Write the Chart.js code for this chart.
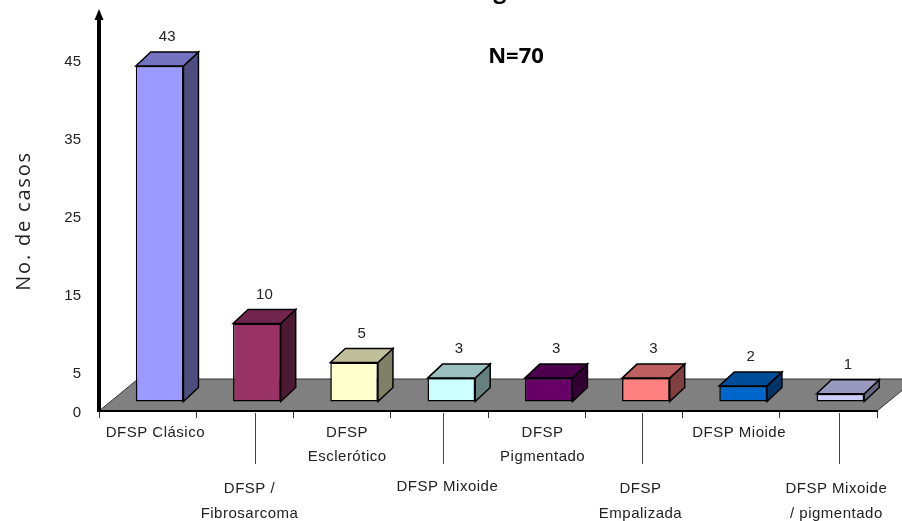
<!DOCTYPE html>
<html>
<head>
<meta charset="utf-8">
<style>
  html, body { margin: 0; padding: 0; background: #fff; }
  canvas { display: block; }
</style>
<script src="https://cdn.jsdelivr.net/npm/chart.js@4"></script>
</head>
<body>
<canvas id="chart" width="902" height="521"></canvas>
<script>
// --- data ---
const categories = [
    ['DFSP Clásico'],
    ['DFSP /', 'Fibrosarcoma'],
    ['DFSP', 'Esclerótico'],
    ['DFSP Mixoide'],
    ['DFSP', 'Pigmentado'],
    ['DFSP', 'Empalizada'],
    ['DFSP Mioide'],
    ['DFSP Mixoide', '/ pigmentado']
];
const casos = [43, 10, 5, 3, 3, 3, 2, 1];
const yTickValues = [0, 5, 15, 25, 35, 45];
const barColors = ['#9999FF', '#993366', '#FFFFCC', '#CCFFFF', '#660066', '#FF8080', '#0066CC', '#CCCCFF'];

// --- layout of the fake 3D look ---
const FLOOR = { dx: 39, dy: -32 };      // depth of the grey floor
const BAR_INSET = { dx: 12, dy: -9.5 }; // bars stand a bit inside the floor
const DEPTH = { dx: 15, dy: -14 };      // depth of a bar
const labelDx = [7.7, 4.6, 5, 8, 6, 6.6, 8, 8];
const labelY = [432.7, 489.3, 432.7, 486.7, 432.7, 489.3, 432.7, 489.3];
const leaderDx = [null, 10, null, 4, null, 8, null, 10.6];
const tickFont = '15px "Liberation Sans"';

// multiply a hex colour, used for the side and top faces
function shade(hex, k) {
    const n = parseInt(hex.slice(1), 16);
    const r = Math.round((n >> 16 & 255) * k);
    const g = Math.round((n >> 8 & 255) * k);
    const b = Math.round((n & 255) * k);
    return `rgb(${r},${g},${b})`;
}

function face(ctx, pts, fill) {
    ctx.beginPath();
    pts.forEach((p, i) => i ? ctx.lineTo(p[0], p[1]) : ctx.moveTo(p[0], p[1]));
    ctx.closePath();
    ctx.fillStyle = fill;
    ctx.fill();
    ctx.lineWidth = 1.5;
    ctx.strokeStyle = '#000';
    ctx.stroke();
}

const bar3d = {
    id: 'bar3d',
    // floor goes under the axes
    beforeDraw(chart) {
        const { ctx, chartArea: a } = chart;
        ctx.save();
        ctx.beginPath();
        ctx.moveTo(a.left, a.bottom);
        ctx.lineTo(a.right, a.bottom);
        ctx.lineTo(a.right + FLOOR.dx, a.bottom + FLOOR.dy);
        ctx.lineTo(a.left + FLOOR.dx, a.bottom + FLOOR.dy);
        ctx.closePath();
        ctx.fillStyle = '#808080';
        ctx.fill();
        ctx.lineWidth = 1;
        ctx.strokeStyle = '#333';
        ctx.stroke();
        ctx.restore();
    },
    // side and top faces, then the library draws the front face on the same shift
    beforeDatasetDraw(chart, args) {
        const { ctx } = chart;
        ctx.save();
        ctx.translate(BAR_INSET.dx, BAR_INSET.dy);
        args.meta.data.forEach((bar, i) => {
            const l = bar.x - bar.width / 2, r = bar.x + bar.width / 2;
            const t = bar.y, b = bar.base;
            face(ctx, [[r, t], [r + DEPTH.dx, t + DEPTH.dy], [r + DEPTH.dx, b + DEPTH.dy], [r, b]], shade(barColors[i], 0.5));
            face(ctx, [[l, t], [l + DEPTH.dx, t + DEPTH.dy], [r + DEPTH.dx, t + DEPTH.dy], [r, t]], shade(barColors[i], 0.75));
        });
    },
    afterDatasetDraw(chart, args) {
        const { ctx } = chart;
        // value labels above the back edge of each bar
        ctx.font = tickFont;
        ctx.fillStyle = '#222';
        ctx.textAlign = 'center';
        ctx.textBaseline = 'middle';
        args.meta.data.forEach((bar, i) => {
            ctx.fillText(casos[i], bar.x + DEPTH.dx / 2, bar.y + DEPTH.dy - 15);
        });
        ctx.restore();
    },
    afterDraw(chart) {
        const { ctx, chartArea: a, scales } = chart;
        ctx.save();

        // arrow head on the y axis
        ctx.fillStyle = '#000';
        ctx.beginPath();
        ctx.moveTo(a.left, 9);
        ctx.lineTo(a.left + 4.5, 20);
        ctx.lineTo(a.left - 4.5, 20);
        ctx.closePath();
        ctx.fill();

        // category labels, staggered on two rows with leader lines
        ctx.font = tickFont;
        ctx.letterSpacing = '0.5px';
        ctx.textAlign = 'center';
        ctx.textBaseline = 'middle';
        categories.forEach((lines, i) => {
            const x = scales.x.getPixelForTick(i);
            lines.forEach((line, j) => {
                ctx.fillStyle = '#222';
                ctx.fillText(line, x + labelDx[i], labelY[i] + j * 24.5);
            });
            if (leaderDx[i] !== null) {
                ctx.strokeStyle = '#444';
                ctx.lineWidth = 1;
                ctx.beginPath();
                ctx.moveTo(Math.round(x + leaderDx[i]) + 0.5, 413);
                ctx.lineTo(Math.round(x + leaderDx[i]) + 0.5, 464);
                ctx.stroke();
            }
        });

        // axis title and annotation
        ctx.fillStyle = '#222';
        ctx.font = '20px "Open Sans"';
        ctx.letterSpacing = '1.8px';
        ctx.save();
        ctx.translate(24, 221);
        ctx.rotate(-Math.PI / 2);
        ctx.fillText('No. de casos', 0, 0);
        ctx.restore();
        ctx.letterSpacing = '0px';

        ctx.fillStyle = '#000';
        ctx.font = 'bold 22px "Open Sans"';
        ctx.fillText('N=70', 516, 57);

        // only the tail of the title is left at the top of the picture
        ctx.textBaseline = 'alphabetic';
        ctx.font = 'bold 23px "Open Sans"';
        ctx.fillText('g', 500, -2);
        ctx.restore();
    }
};

new Chart(document.getElementById('chart'), {
    type: 'bar',
    data: {
        labels: categories,
        datasets: [{
            label: 'No. de casos',
            data: casos,
            backgroundColor: barColors,
            borderColor: '#000',
            borderWidth: 1.5,
            borderSkipped: false,
            categoryPercentage: 1,
            barPercentage: 0.49,
            clip: false
        }]
    },
    options: {
        responsive: false,
        animation: false,
        layout: { padding: { top: 19, right: 25, bottom: 0, left: 0 } },
        plugins: {
            legend: { display: false },
            title: { display: false },
            tooltip: { enabled: false }
        },
        scales: {
            x: {
                ticks: { display: false },
                grid: { offset: true, drawOnChartArea: false, drawTicks: true, tickLength: 7, tickColor: '#333', tickWidth: 1 },
                border: { display: true, color: '#000', width: 2 },
                afterFit: (scale) => { scale.height = 110; scale.paddingLeft = 0; scale.paddingRight = 0; }
            },
            y: {
                min: 0,
                max: 50.25,
                afterBuildTicks: (scale) => { scale.ticks = yTickValues.map(v => ({ value: v })); },
                ticks: {
                    color: '#222',
                    font: { family: 'Liberation Sans', size: 15 },
                    padding: 10,
                    autoSkip: false
                },
                grid: { display: false },
                border: { display: true, color: '#000', width: 4 },
                afterFit: (scale) => {
                    scale.width = 99;
                    scale.paddingTop = 0;
                    scale.paddingBottom = 0;
                    // tick labels sit about 2px under their value in the original
                    if (!scale.shiftedLabels) {
                        const drawLabels = scale.drawLabels;
                        scale.drawLabels = function (area) {
                            this.ctx.save();
                            this.ctx.translate(0, 2);
                            drawLabels.call(this, area);
                            this.ctx.restore();
                        };
                        scale.shiftedLabels = true;
                    }
                }
            }
        }
    },
    plugins: [bar3d]
});
</script>
</body>
</html>
